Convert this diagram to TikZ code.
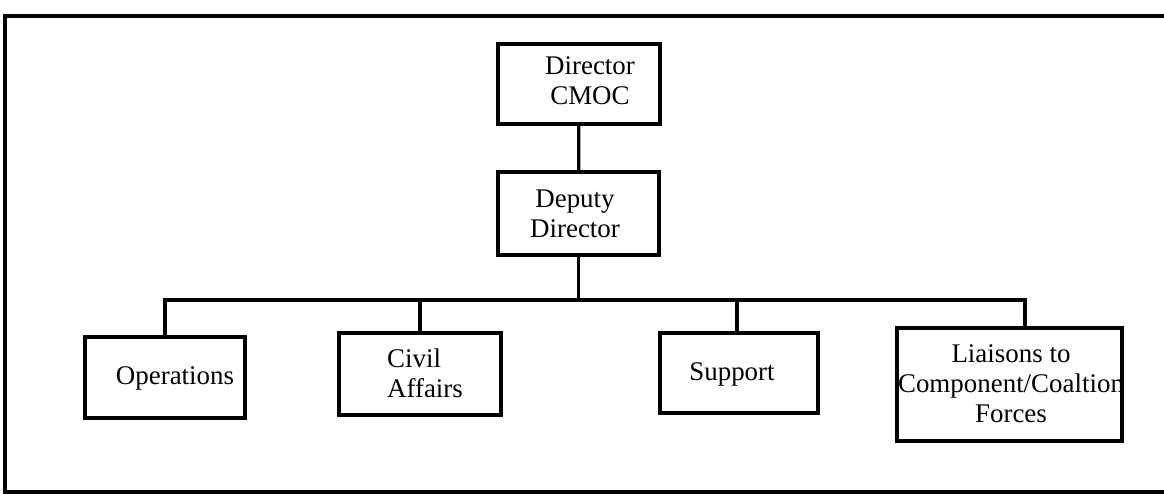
\documentclass[tikz,border=0pt]{standalone}
\usepackage{fontspec}
\setmainfont{Liberation Serif}
\begin{document}
\begin{tikzpicture}[x=0.75pt,y=-0.75pt,line width=2.4pt,
  box/.style={draw,line width=2.4pt,inner sep=0pt},
  lbl/.style={font=\fontsize{20.2}{22.5}\selectfont,align=center,inner sep=0pt},
  conn/.style={line width=2.4pt}]
\useasboundingbox (0,0) rectangle (1164,495);
% frame (open on the right)
\draw[line width=2.4pt] (1164,16) -- (5,16) -- (5,492) -- (1164,492);
% boxes
\node[box,minimum width=121.5pt,minimum height=60pt] (dir) at (579,84) {};
\node[box,minimum width=120.75pt,minimum height=62.25pt] (dep) at (578.5,213.5) {};
\node[box,minimum width=120pt,minimum height=60.75pt] (ops) at (165,377.5) {};
\node[box,minimum width=121.5pt,minimum height=61.5pt] (civ) at (420,374) {};
\node[box,minimum width=118.5pt,minimum height=60pt] (sup) at (739,373) {};
\node[box,minimum width=168.75pt,minimum height=84.75pt] (lia) at (1009.5,384.5) {};
% texts
\node[lbl] (dirt) at (590,81) {Director\\CMOC};
\node[lbl] (dept) at (575,214) {Deputy\\Director};
\node[lbl] (opst) at (175,378) {Operations};
\node[lbl,align=left] (civt) at (425,373) {Civil\\Affairs};
\node[lbl] (supt) at (732,374) {Support};
\node[lbl] (liat) at (1011,384) {Liaisons to\\Component/Coaltion\\Forces};
% connectors
\coordinate (busR) at (1025,300);
\draw[conn] (dir) -- (dep);
\draw[conn] (dep.south) -- (dep.south |- busR);
\draw[conn] (ops.north) |- (busR) -- (busR |- lia.north);
\draw[conn] (civ.north) -- (civ.north |- busR);
\draw[conn] ([xshift=-1.5pt]sup.north) -- ([xshift=-1.5pt]sup.north |- busR);
\end{tikzpicture}
\end{document}
